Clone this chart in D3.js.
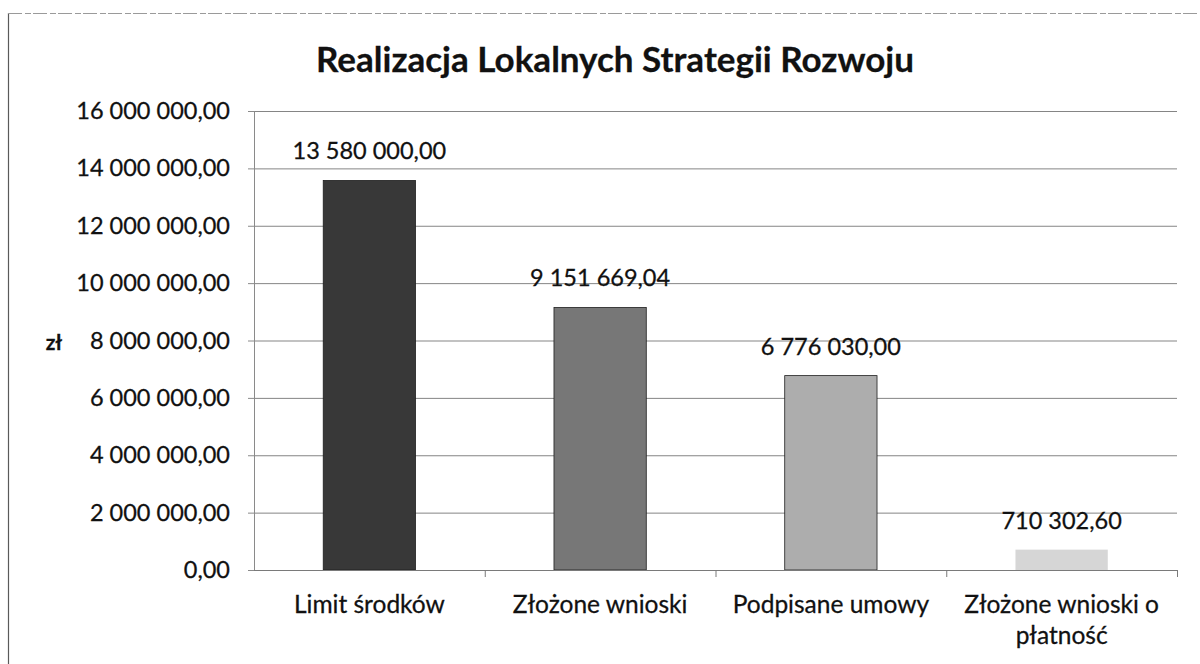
<!DOCTYPE html>
<html>
<head>
<meta charset="utf-8">
<script src="https://cdn.jsdelivr.net/npm/d3@7"></script>
<style>
  html, body { margin: 0; padding: 0; background: #fff; }
  svg { display: block; font-family: Lato, "Noto Sans", sans-serif; }
  .txt { fill: #111; stroke: #111; stroke-width: 0.28px; }
</style>
</head>
<body>
<svg id="chart" width="1200" height="664"></svg>
<script>
// Realizacja LSR – kwoty w złotych
const categories = ["Limit środków", "Złożone wnioski", "Podpisane umowy", "Złożone wnioski o płatność"];
const amounts = [13580000.00, 9151669.04, 6776030.00, 710302.60];
const barColors = ["#383838", "#777777", "#adadad", "#d6d6d6"];
const yTicks = [0, 2000000, 4000000, 6000000, 8000000, 10000000, 12000000, 14000000, 16000000];
const titleText = "Realizacja Lokalnych Strategii Rozwoju";
const yAxisTitle = "zł";

const pl = d3.formatLocale({ decimal: ",", thousands: " ", grouping: [3], currency: ["", " zł"] });
const fmt = pl.format(",.2f");

const svg = d3.select("#chart");
const W = 1200, H = 664;
const plot = { left: 254, right: 1177, top: 111, bottom: 570 };

// chart frame
svg.append("line").attr("x1", 8.5).attr("x2", 8.5).attr("y1", 13).attr("y2", H)
  .attr("stroke", "#5a5a5a").attr("stroke-width", 1.2);
svg.append("line").attr("x1", 8).attr("x2", W).attr("y1", 13.5).attr("y2", 13.5)
  .attr("stroke", "#9a9a9a").attr("stroke-width", 1).attr("stroke-dasharray", "14 3 6 2");

const x = d3.scaleBand().domain(categories).range([plot.left, plot.right]).padding(0);
const y = d3.scaleLinear().domain([0, 16000000]).range([plot.bottom, plot.top]);

// gridlines
svg.append("g")
  .attr("transform", `translate(${plot.left},0)`)
  .call(d3.axisLeft(y).tickValues(yTicks).tickSize(-(plot.right - plot.left)).tickFormat(""))
  .call(g => g.select(".domain").remove())
  .call(g => g.selectAll(".tick line").attr("stroke", "#858585").attr("stroke-width", 1));

// y axis with labels
svg.append("g")
  .attr("transform", `translate(${plot.left},0)`)
  .call(d3.axisLeft(y).tickValues(yTicks).tickSize(6).tickPadding(18).tickFormat(fmt))
  .call(g => g.select(".domain").attr("stroke", "#8a8a8a"))
  .call(g => g.selectAll(".tick line").attr("stroke", "#8a8a8a"))
  .call(g => g.selectAll(".tick text").attr("class", "txt").attr("font-family", "Lato, sans-serif")
    .attr("font-size", 23.5));

// axis title
svg.append("text").attr("class", "txt").attr("x", 54).attr("y", 350).attr("text-anchor", "middle")
  .attr("font-size", 21).attr("font-weight", 700).text(yAxisTitle);

// bars
const barW = x.bandwidth() * 0.4;
svg.append("g").selectAll("rect").data(amounts).join("rect")
  .attr("x", (d, i) => x(categories[i]) + (x.bandwidth() - barW) / 2)
  .attr("y", d => y(d))
  .attr("width", barW)
  .attr("height", d => y(0) - y(d))
  .attr("fill", (d, i) => barColors[i])
  .attr("stroke", (d, i) => i < 3 ? "#1e1e1e" : "none")
  .attr("stroke-width", 0.8);

// value labels
svg.append("g").selectAll("text").data(amounts).join("text")
  .attr("class", "txt")
  .attr("x", (d, i) => x(categories[i]) + x.bandwidth() / 2)
  .attr("y", d => y(d) - 21)
  .attr("text-anchor", "middle")
  .attr("font-size", 23.5)
  .text(d => fmt(d));

// baseline and category separators
svg.append("line").attr("x1", plot.left).attr("x2", plot.right)
  .attr("y1", y(0) + 0.5).attr("y2", y(0) + 0.5).attr("stroke", "#7a7a7a");
svg.append("g").selectAll("line").data(categories).join("line")
  .attr("x1", d => x(d) + x.bandwidth() + 0.5).attr("x2", d => x(d) + x.bandwidth() + 0.5)
  .attr("y1", y(0)).attr("y2", y(0) + 7).attr("stroke", "#7a7a7a");

// category labels, wrapped to the band
const catG = svg.append("g").selectAll("text").data(categories).join("text")
  .attr("class", "txt")
  .attr("x", d => x(d) + x.bandwidth() / 2)
  .attr("y", y(0) + 43)
  .attr("text-anchor", "middle")
  .attr("font-size", 24.5);
catG.each(function (d) {
  const t = d3.select(this);
  const words = d.split(" ");
  const maxW = x.bandwidth() * 0.9;
  let line = [];
  let tspan = t.append("tspan").attr("x", t.attr("x")).attr("dy", 0);
  words.forEach(w => {
    line.push(w);
    tspan.text(line.join(" "));
    if (tspan.node().getComputedTextLength() > maxW && line.length > 1) {
      line.pop();
      tspan.text(line.join(" "));
      line = [w];
      tspan = t.append("tspan").attr("x", t.attr("x")).attr("dy", 31).text(w);
    }
  });
});

// title
svg.append("text").attr("class", "txt").attr("x", 615).attr("y", 72).attr("text-anchor", "middle")
  .attr("font-size", 35).attr("font-weight", 700).text(titleText);
</script>
</body>
</html>
